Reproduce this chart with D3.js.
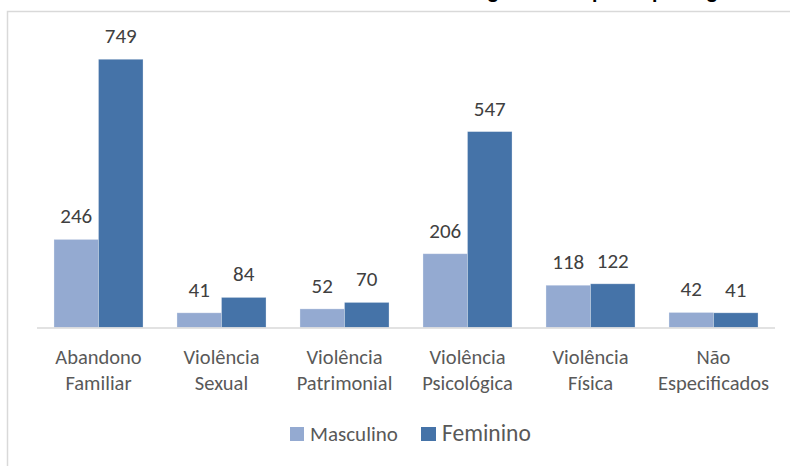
<!DOCTYPE html>
<html><head><meta charset="utf-8">
<script src="https://cdn.jsdelivr.net/npm/d3@7"></script>
<style>
html,body{margin:0;padding:0;background:#fff;}
svg{display:block;font-family:Carlito,Lato,"Open Sans",sans-serif;}
</style></head>
<body><svg id="c" width="790" height="466"></svg>
<script>
const categories = [["Abandono","Familiar"],["Violência","Sexual"],["Violência","Patrimonial"],["Violência","Psicológica"],["Violência","Física"],["Não","Especificados"]];
const seriesNames = ["Masculino","Feminino"];
const masculino = [246,41,52,206,118,42];
const feminino = [749,84,70,547,122,41];
const colors = ["#94aad1","#4573a8"];
const titleGlyphs = [["g",493],["p",598],["p",658],["g",712]];

const svg = d3.select("#c");
// frame (partially visible)
svg.append("path").attr("d","M7.5,466 V11.5 H790").attr("fill","none").attr("stroke","#d9d9d9").attr("stroke-width",1.5);
// clipped title descenders
svg.append("g").selectAll("text").data(titleGlyphs).join("text")
  .attr("x",d=>d[1]).attr("y",-2).attr("text-anchor","middle")
  .attr("font-size",22).attr("font-weight","bold").attr("fill","#000").text(d=>d[0]);

const x0 = d3.scaleBand().domain(d3.range(categories.length)).range([37,775]).paddingInner(0.276).paddingOuter(0.138);
const x1 = d3.scaleBand().domain([0,1]).range([0,x0.bandwidth()]);
const y = d3.scaleLinear().domain([0,800]).range([327.5,41]);

const data = categories.map((c,i)=>({c,i,vals:[masculino[i],feminino[i]]}));
const g = svg.append("g");
const groups = g.selectAll("g.cat").data(data).join("g").attr("class","cat")
  .attr("transform",d=>`translate(${x0(d.i)},0)`);
groups.selectAll("rect").data(d=>d.vals.map((v,k)=>({v,k}))).join("rect")
  .attr("x",d=>x1(d.k)).attr("width",x1.bandwidth())
  .attr("y",d=>y(d.v)).attr("height",d=>y(0)-y(d.v))
  .attr("fill",d=>colors[d.k]).attr("stroke","#ffffff").attr("stroke-opacity",0.35).attr("stroke-width",0.8);
groups.selectAll("text.lbl").data(d=>d.vals.map((v,k)=>({v,k}))).join("text").attr("class","lbl")
  .attr("x",d=>x1(d.k)+x1.bandwidth()/2).attr("y",d=>y(d.v)-16)
  .attr("text-anchor","middle").attr("font-size",21).attr("fill","#404040").text(d=>d.v);

// axis line
const xAxis = d3.axisBottom(x0).tickSize(0).tickFormat("");
const ax = svg.append("g").attr("transform",`translate(0,${y(0)+0.5})`).call(xAxis);
ax.select(".domain").attr("stroke","#d9d9d9").attr("stroke-width",1.5).attr("d","M37,0H775");
// category labels
svg.append("g").selectAll("text").data(data).join("text")
  .attr("x",d=>x0(d.i)+x0.bandwidth()/2).attr("y",364).attr("text-anchor","middle")
  .attr("font-size",20.5).attr("fill","#595959")
  .selectAll("tspan").data(d=>d.c).join("tspan")
  .attr("x",function(){return this.parentNode.getAttribute("x");})
  .attr("dy",(d,j)=>j?26:0).text(d=>d);

// legend
const leg = svg.append("g");
leg.append("rect").attr("x",290).attr("y",427).attr("width",14).attr("height",14).attr("fill",colors[0]);
leg.append("text").attr("x",310).attr("y",441).attr("font-size",21).attr("fill","#595959").text(seriesNames[0]);
leg.append("rect").attr("x",421).attr("y",427).attr("width",15).attr("height",14).attr("fill",colors[1]);
leg.append("text").attr("x",442).attr("y",441).attr("font-size",23.5).attr("fill","#595959").text(seriesNames[1]);
</script></body></html>
